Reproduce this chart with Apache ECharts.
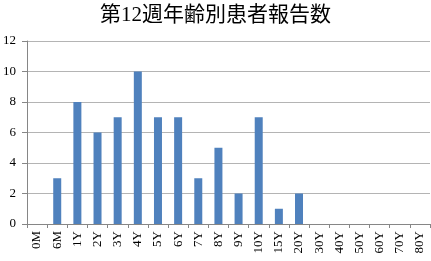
<!DOCTYPE html>
<html><head><meta charset="utf-8">
<script src="https://cdn.jsdelivr.net/npm/echarts@6/dist/echarts.min.js"></script>
<style>html,body{margin:0;padding:0;background:#fff}#c{width:431px;height:261px}</style>
</head><body><div id="c"></div>
<script>
const title = "第12週年齢別患者報告数";
const categories = ["0M","6M","1Y","2Y","3Y","4Y","5Y","6Y","7Y","8Y","9Y","10Y","15Y","20Y","30Y","40Y","50Y","60Y","70Y","80Y"];
const values = [0,3,8,6,7,10,7,7,3,5,2,7,1,2,0,0,0,0,0,0];
const yMin = 0, yMax = 12, yStep = 2;
const serif = "'Liberation Serif','DejaVu Serif','Noto Sans CJK JP',serif";
const chart = echarts.init(document.getElementById('c'), null, {renderer:'canvas'});
chart.setOption({
  animation:false,
  title:{text:title,left:'center',top:0,textStyle:{fontFamily:serif,fontSize:21,fontWeight:'normal',color:'#000'}},
  grid:{left:27,right:1,top:41,bottom:37,containLabel:false},
  xAxis:{type:'category',data:categories,boundaryGap:true,
    axisLine:{lineStyle:{color:'#868686',width:1}},
    axisTick:{show:true,alignWithLabel:false,length:4,lineStyle:{color:'#868686'}},
    axisLabel:{rotate:90,interval:0,fontFamily:serif,fontSize:13,color:'#000',margin:7}},
  yAxis:{type:'value',min:yMin,max:yMax,interval:yStep,
    axisLine:{show:true,lineStyle:{color:'#868686'}},
    axisTick:{show:true,length:5,lineStyle:{color:'#868686'}},
    splitLine:{lineStyle:{color:'#b4b4b4',width:1}},
    axisLabel:{fontFamily:serif,fontSize:13,color:'#000',margin:11}},
  series:[{type:'bar',data:values,barWidth:8,itemStyle:{color:'#4f81bd'}}]
});
</script></body></html>
